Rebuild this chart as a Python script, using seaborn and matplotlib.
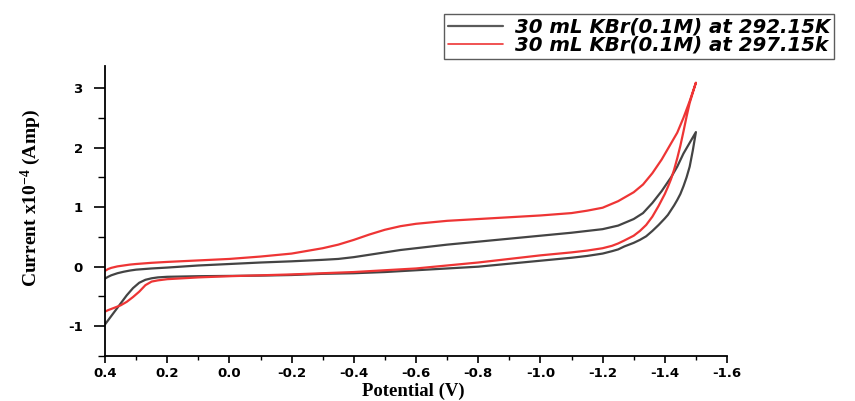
import numpy as np
import pandas as pd
import matplotlib
matplotlib.use("Agg")
import matplotlib.pyplot as plt
from matplotlib.lines import Line2D
from matplotlib.ticker import FixedLocator, MultipleLocator
import seaborn as sns

# Cyclic voltammograms: forward sweep 0.4 V -> -1.5 V, then reverse sweep back to 0.4 V
fwd_potential = [0.40, 0.39, 0.38, 0.36, 0.34, 0.32, 0.30, 0.25, 0.20, 0.10,
                 0.00, -0.10, -0.20, -0.30, -0.35, -0.40, -0.45, -0.50, -0.55,
                 -0.60, -0.65, -0.70, -0.80, -0.90, -1.00, -1.10, -1.15, -1.20,
                 -1.25, -1.30, -1.33, -1.36, -1.39, -1.42, -1.44, -1.46, -1.48,
                 -1.50]
rev_potential = [-1.50, -1.49, -1.48, -1.47, -1.46, -1.45, -1.44, -1.43, -1.42,
                 -1.41, -1.40, -1.38, -1.36, -1.34, -1.32, -1.30, -1.27, -1.25,
                 -1.23, -1.20, -1.15, -1.10, -1.00, -0.90, -0.80, -0.70, -0.60,
                 -0.50, -0.40, -0.30, -0.20, -0.10, 0.00, 0.10, 0.15, 0.20, 0.23,
                 0.25, 0.27, 0.29, 0.31, 0.33, 0.35, 0.37, 0.39, 0.40]

# 292.15 K (current in units of 1e-4 A)
fwd_292 = [-0.20, -0.17, -0.145, -0.11, -0.085, -0.065, -0.05, -0.03, -0.015, 0.02,
           0.045, 0.07, 0.09, 0.115, 0.13, 0.16, 0.20, 0.24, 0.28,
           0.31, 0.34, 0.37, 0.42, 0.47, 0.52, 0.57, 0.60, 0.63,
           0.69, 0.80, 0.90, 1.07, 1.27, 1.50, 1.68, 1.90, 2.08,
           2.26]
rev_292 = [2.26, 1.95, 1.68, 1.50, 1.35, 1.22, 1.12, 1.03, 0.95,
           0.87, 0.81, 0.70, 0.60, 0.51, 0.45, 0.40, 0.34, 0.29,
           0.26, 0.22, 0.18, 0.15, 0.10, 0.05, 0.00, -0.03, -0.06,
           -0.09, -0.11, -0.12, -0.14, -0.15, -0.155, -0.16, -0.165, -0.17, -0.18,
           -0.195, -0.22, -0.27, -0.36, -0.48, -0.62, -0.76, -0.90, -0.97]

# 297.15 K
fwd_297 = [-0.07, -0.04, -0.02, 0.005, 0.02, 0.035, 0.045, 0.065, 0.08, 0.105,
           0.13, 0.17, 0.22, 0.31, 0.37, 0.45, 0.54, 0.62, 0.68,
           0.72, 0.745, 0.77, 0.80, 0.83, 0.86, 0.90, 0.94, 0.99,
           1.10, 1.25, 1.38, 1.57, 1.80, 2.07, 2.25, 2.50, 2.78,
           3.09]
rev_297 = [3.09, 2.92, 2.75, 2.52, 2.27, 2.03, 1.82, 1.63, 1.47,
           1.34, 1.22, 1.02, 0.84, 0.70, 0.60, 0.52, 0.44, 0.39,
           0.35, 0.31, 0.27, 0.24, 0.19, 0.13, 0.07, 0.02, -0.03,
           -0.06, -0.09, -0.11, -0.13, -0.145, -0.16, -0.18, -0.195, -0.21, -0.23,
           -0.25, -0.31, -0.42, -0.51, -0.59, -0.65, -0.69, -0.73, -0.755]

series_labels = ["30 mL KBr(0.1M) at 292.15K", "30 mL KBr(0.1M) at 297.15k"]
x_ticks = [0.4, 0.2, 0.0, -0.2, -0.4, -0.6, -0.8, -1.0, -1.2, -1.4, -1.6]
x_tick_labels = ["0.4", "0.2", "0.0", "-0.2", "-0.4", "-0.6", "-0.8", "-1.0",
                 "-1.2", "-1.4", "-1.6"]
y_ticks = [-1, 0, 1, 2, 3]
y_tick_labels = ["-1", "0", "1", "2", "3"]

frames = []
for label, fwd, rev in [(series_labels[0], fwd_292, rev_292),
                        (series_labels[1], fwd_297, rev_297)]:
    frames.append(pd.DataFrame({
        "potential": fwd_potential + rev_potential,
        "current": fwd + rev,
        "series": label,
    }))
df = pd.concat(frames, ignore_index=True)

sns.set_style("ticks")
plt.rcParams["axes.unicode_minus"] = False
plt.rcParams["text.color"] = "black"
plt.rcParams["axes.labelcolor"] = "black"
plt.rcParams["mathtext.fontset"] = "custom"
plt.rcParams["mathtext.rm"] = "Liberation Serif:bold"
plt.rcParams["mathtext.bf"] = "Liberation Serif:bold"
plt.rcParams["mathtext.it"] = "Liberation Serif:bold"

colors = {series_labels[0]: "#444444", series_labels[1]: "#ee3535"}

fig = plt.figure(figsize=(8.55, 4.01), dpi=100)
ax = fig.add_axes([105 / 855, 1 - 356 / 401, (727 - 105) / 855, (356 - 66) / 401])

sns.lineplot(data=df, x="potential", y="current", hue="series", sort=False,
             estimator=None, palette=colors, linewidth=1.6, ax=ax, legend=False)

ax.set_xlim(0.4, -1.6)
ax.set_ylim(-1.5, 3.37)
sns.despine(ax=ax)
for s in ["left", "bottom"]:
    ax.spines[s].set_linewidth(1.3)
    ax.spines[s].set_color("black")

ax.xaxis.set_major_locator(FixedLocator(x_ticks))
ax.set_xticklabels(x_tick_labels)
ax.xaxis.set_minor_locator(MultipleLocator(0.1))
ax.yaxis.set_major_locator(FixedLocator(y_ticks))
ax.set_yticklabels(y_tick_labels)
ax.yaxis.set_minor_locator(MultipleLocator(0.5))

ax.tick_params(axis="x", which="major", direction="out", length=5, width=1.2,
               pad=3, labelsize=9.5, colors="black")
ax.tick_params(axis="x", which="minor", direction="out", length=3, width=1.0,
               colors="black")
ax.tick_params(axis="y", which="major", direction="out", length=8, width=1.2,
               pad=8, labelsize=9.5, colors="black")
ax.tick_params(axis="y", which="minor", direction="out", length=5, width=1.0,
               colors="black")
for lbl in ax.get_xticklabels() + ax.get_yticklabels():
    lbl.set_fontweight("bold")
    lbl.set_fontfamily("DejaVu Sans")

ax.set_xlabel("")
ax.set_ylabel("")
fig.text(413 / 855, 1 - 391 / 401, "Potential (V)", fontfamily="Liberation Serif",
         fontweight="bold", fontsize=13.5, ha="center", va="center", color="black")
fig.text(0.036, 0.505, r"Current x10$^{-4}$ (Amp)", rotation=90,
         fontfamily="Liberation Serif", fontweight="bold", fontsize=14,
         ha="center", va="center", color="black")

handles = [Line2D([], [], color="#5a5a5a", lw=1.6),
           Line2D([], [], color="#ee3535", lw=1.2)]
leg = fig.legend(handles, series_labels, loc="upper left",
                 bbox_to_anchor=(444 / 855, 1 - 14 / 401),
                 prop={"family": "DejaVu Sans", "weight": "bold",
                       "style": "italic", "size": 14.2},
                 frameon=True, fancybox=False, shadow=False,
                 handlelength=2.8, handletextpad=0.6, labelspacing=-0.05,
                 borderpad=0.2, borderaxespad=0.0)
leg.get_frame().set_edgecolor("#333333")
leg.get_frame().set_linewidth(1.0)
for t in leg.get_texts():
    t.set_color("black")

fig.savefig("out.png", dpi=100)
